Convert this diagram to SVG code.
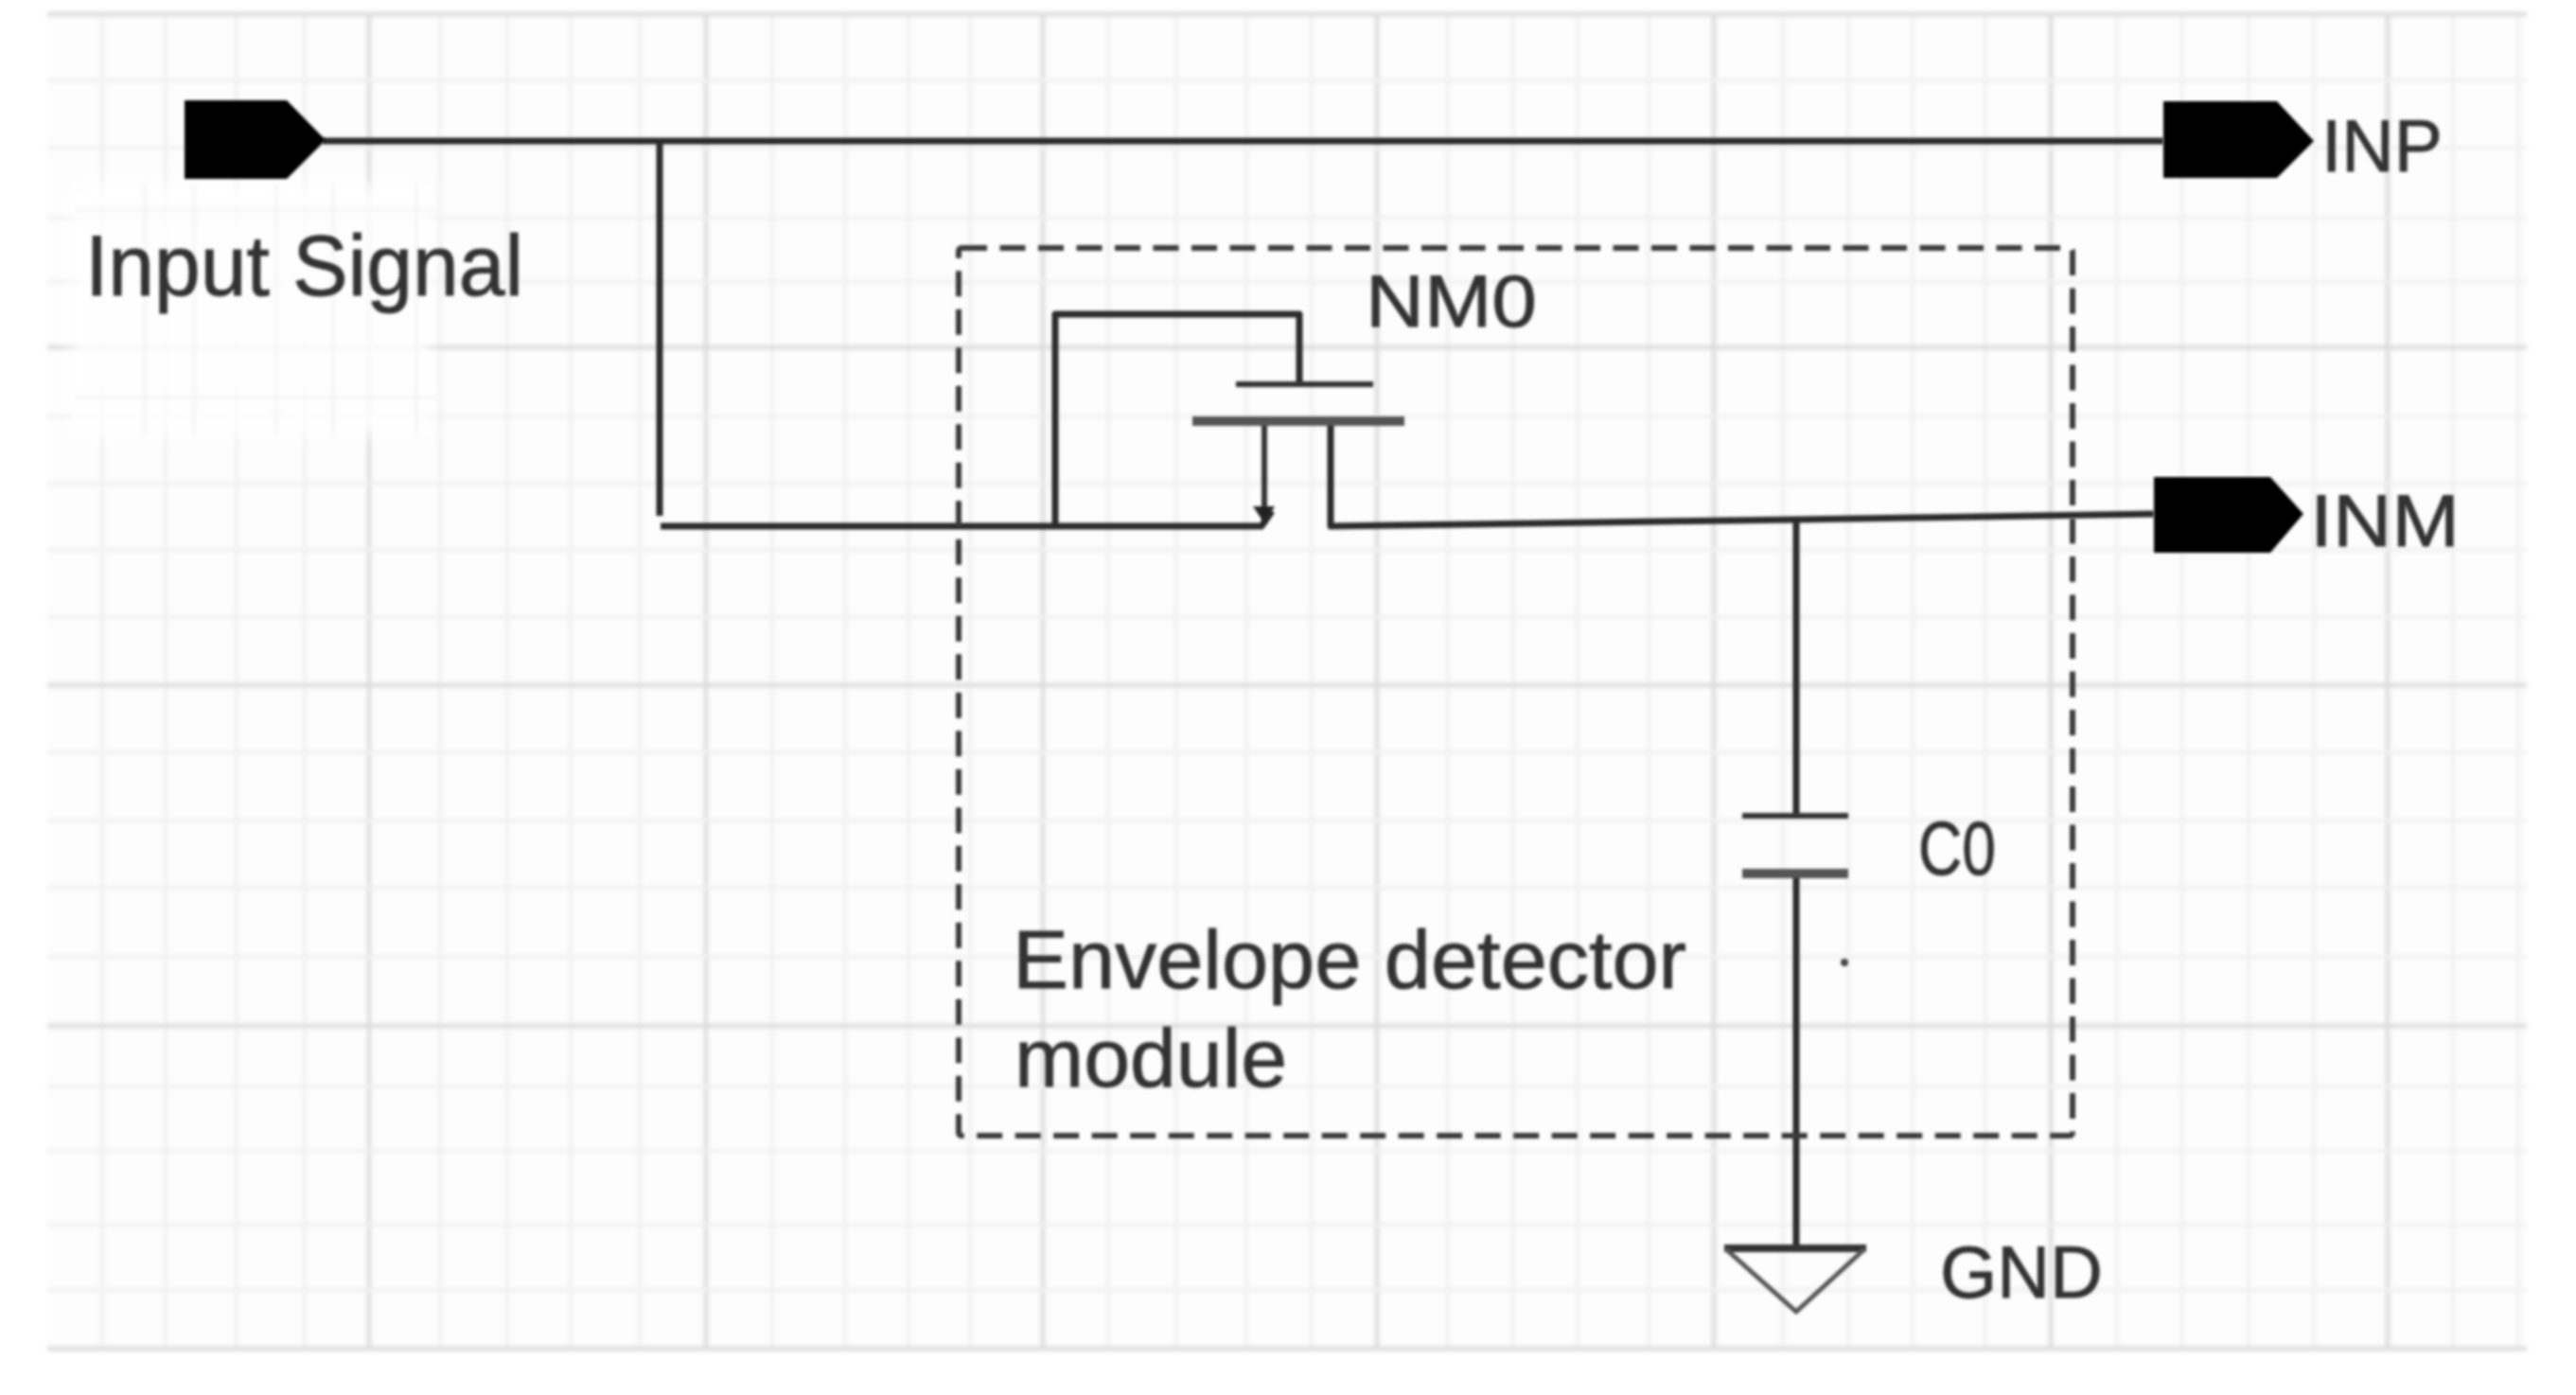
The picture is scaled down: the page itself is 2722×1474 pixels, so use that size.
<svg xmlns="http://www.w3.org/2000/svg" width="2722" height="1474" viewBox="0 0 2722 1474">
<defs>
<filter id="soft" x="-2%" y="-2%" width="104%" height="104%"><feGaussianBlur stdDeviation="1.5"/></filter>
<filter id="softer" x="-2%" y="-2%" width="104%" height="104%"><feGaussianBlur stdDeviation="2"/></filter>
<filter id="patch" x="-10%" y="-10%" width="120%" height="120%"><feGaussianBlur stdDeviation="8"/></filter>
</defs>
<style>
.minor{stroke:#f1f1f1;stroke-width:4;fill:none}
.major{stroke:#dedede;stroke-width:5;fill:none}
.faint{stroke:#f3f3f3;stroke-width:3;fill:none}
.wire{stroke:#2c2c2c;stroke-width:7;fill:none;stroke-linejoin:round}
.thin{stroke:#333;stroke-width:6;fill:none}
.plate{stroke:#555;stroke-width:10;fill:none}
.dash{stroke:#3a3a3a;stroke-width:6;fill:none;stroke-dasharray:27 13.5}
.port{fill:#000}
text{font-family:"Liberation Sans",Arial,sans-serif;fill:#333;stroke:#333;stroke-width:.9}
</style>
<rect width="2722" height="1474" fill="#fff"/>
<g id="grid" filter="url(#softer)">
<rect x="50" y="15" width="2620" height="1410" fill="#fdfdfd"/>
<path class="minor" d="M108 15V1425M175 15V1425M250 15V1425M322 15V1425M465 15V1425M536 15V1425M603 15V1425M676 15V1425M816 15V1425M893 15V1425M960 15V1425M1025 15V1425M1171 15V1425M1243 15V1425M1317 15V1425M1386 15V1425M1530 15V1425M1599 15V1425M1667 15V1425M1742 15V1425M1884 15V1425M1953 15V1425M2021 15V1425M2098 15V1425M2237 15V1425M2306 15V1425M2376 15V1425M2445 15V1425M2592 15V1425M2661 15V1425"/>
<path class="major" d="M390 15V1425M746 15V1425M1102 15V1425M1455 15V1425M1811 15V1425M2167 15V1425M2523 15V1425"/>
<path class="minor" d="M50 85H2670M50 156H2670M50 230H2670M50 298H2670M50 440H2670M50 511H2670M50 581H2670M50 652H2670M50 795H2670M50 867H2670M50 938H2670M50 1011H2670M50 1148H2670M50 1216H2670M50 1294H2670M50 1363H2670"/>
<path class="major" d="M50 15H2670M50 367H2670M50 724H2670M50 1084H2670M50 1425H2670"/>
<rect x="75" y="195" width="380" height="265" fill="#fff" opacity=".85" filter="url(#patch)"/>
<path class="faint" d="M153 195V460M205 195V460M292 195V460M352 195V460M440 195V460M80 222H460M80 420H460"/>
</g>
<g id="connectors" filter="url(#soft)">
<path class="wire" d="M341 149H2286"/>
<path class="wire" d="M697 149V545"/>
<path class="wire" stroke-width="8" d="M698 556H1333L1344 540"/>
<path class="wire" d="M1115 555V332H1373V406"/>
<path class="thin" d="M1336 445V540"/>
<path class="wire" d="M1406 445V556L1898 549L2276 543"/>
<path class="wire" d="M1898 549V862"/>
<path class="wire" d="M1898 923V1319"/>
</g>
<g id="envelope-box" filter="url(#soft)">
<rect class="dash" x="1013" y="262" width="1177" height="938" rx="3"/>
<text x="1070" y="1044" font-size="88" textLength="712" lengthAdjust="spacingAndGlyphs">Envelope detector</text>
<text x="1072" y="1148" font-size="88" textLength="288" lengthAdjust="spacingAndGlyphs">module</text>
</g>
<g id="port-input" filter="url(#soft)">
<polygon class="port" points="195,106 303,106 344,148 303,189 195,189"/>
<text x="90" y="312" font-size="90" textLength="463" lengthAdjust="spacingAndGlyphs">Input Signal</text>
</g>
<g id="port-inp" filter="url(#soft)">
<polygon class="port" points="2286,107 2406,107 2445,149 2406,188 2286,188"/>
<text x="2453" y="181" font-size="77" textLength="128" lengthAdjust="spacingAndGlyphs">INP</text>
</g>
<g id="port-inm" filter="url(#soft)">
<polygon class="port" points="2276,504 2399,504 2434,543 2399,584 2276,584"/>
<text x="2441" y="577" font-size="78" textLength="158" lengthAdjust="spacingAndGlyphs">INM</text>
</g>
<g id="nm0" filter="url(#soft)">
<path class="thin" d="M1306 406H1451"/>
<path class="plate" d="M1260 445H1484"/>
<polygon fill="#222" points="1324,535 1347,535 1336,553"/>
<text x="1443" y="345" font-size="78" textLength="181" lengthAdjust="spacingAndGlyphs">NM0</text>
</g>
<g id="c0" filter="url(#soft)">
<path class="thin" d="M1841 862H1953"/>
<path class="plate" d="M1841 923H1953"/>
<circle cx="1949" cy="1017" r="4" fill="#444"/>
<text x="2027" y="924" font-size="80" textLength="82" lengthAdjust="spacingAndGlyphs">C0</text>
</g>
<g id="gnd" filter="url(#soft)">
<path stroke="#333" stroke-width="8" fill="none" d="M1822 1319H1972"/>
<path stroke="#555" stroke-width="5" fill="none" d="M1824 1320L1898 1386L1970 1320"/>
<text x="2050" y="1371" font-size="78" textLength="172" lengthAdjust="spacingAndGlyphs">GND</text>
</g>
</svg>
